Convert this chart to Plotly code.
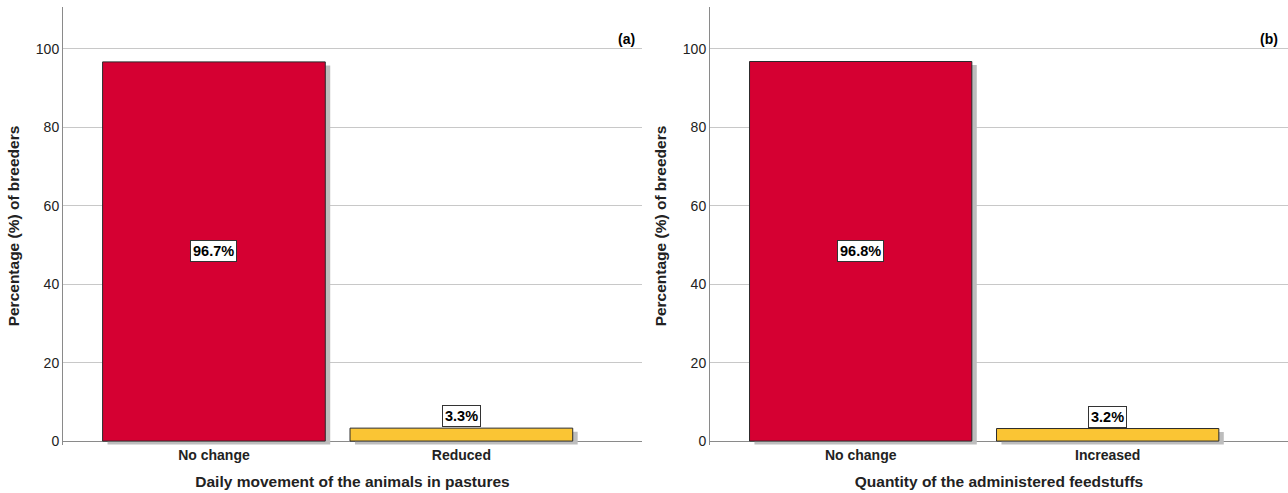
import plotly.graph_objects as go

cats_a = ["No change", "Reduced"]
vals_a = [96.7, 3.3]
cats_b = ["No change", "Increased"]
vals_b = [96.8, 3.2]
colors = ["#D50032", "#FAC534"]
xtitle_a = "Daily movement of the animals in pastures"
xtitle_b = "Quantity of the administered feedstuffs"
ytitle = "Percentage (%) of breeders"
panel_labels = ["(a)", "(b)"]

W, H = 1288, 493
FONT = "Liberation Sans, Arial, sans-serif"

fig = go.Figure()

def add_panel(cats, vals, xa, ya):
    # shadow
    fig.add_trace(go.Bar(x=cats, y=vals, base=-0.9, offset=-0.43, width=0.9,
                         marker=dict(color="#BDBDBD", line=dict(width=0)),
                         xaxis=xa, yaxis=ya, hoverinfo="skip", showlegend=False))
    fig.add_trace(go.Bar(x=cats, y=vals, offset=-0.45, width=0.9,
                         marker=dict(color=colors, line=dict(color="#2b2b2b", width=1)),
                         xaxis=xa, yaxis=ya, showlegend=False))

add_panel(cats_a, vals_a, "x", "y")
add_panel(cats_b, vals_b, "x2", "y2")

# value labels
for xa, ya, cats, vals in [("x", "y", cats_a, vals_a), ("x2", "y2", cats_b, vals_b)]:
    for c, v in zip(cats, vals):
        big = v > 20
        fig.add_annotation(x=c, y=(v / 2 if big else v), xref=xa, yref=ya,
                           text="<b>%.1f%%</b>" % v, showarrow=False,
                           yanchor="middle" if big else "bottom",
                           yshift=0 if big else 1,
                           bgcolor="white", bordercolor="#333", borderwidth=1, borderpad=2,
                           font=dict(family=FONT, size=14.5, color="black"))

l1, r1 = 63 / W, 642 / W
l2, r2 = 710 / W, 1.0
yr = [-1.0, 110.7]
xr = [-0.61, 1.73]

TFS = 15.5
common_y = dict(range=yr, tickvals=[0, 20, 40, 60, 80, 100], showgrid=True,
                gridcolor="#C8C8C8", gridwidth=1, zeroline=True, zerolinecolor="#8a8a8a",
                zerolinewidth=1, showline=True, linecolor="#8a8a8a", linewidth=1,
                ticks="", tickfont=dict(family=FONT, size=14, color="#222"),
                title=dict(text="<b>" + ytitle + "</b>", font=dict(family=FONT, size=TFS, color="#222"),
                           standoff=12))
common_x = dict(range=xr, showgrid=False, showline=False, ticks="",
                tickfont=dict(family=FONT, size=14, color="#222"), type="category")

fig.update_layout(
    width=W, height=H,
    margin=dict(l=0, r=0, t=7, b=48),
    paper_bgcolor="white", plot_bgcolor="white",
    barmode="overlay",
    xaxis=dict(domain=[l1, r1], anchor="y", **common_x,
               tickvals=cats_a, ticktext=["<b>%s</b>" % c for c in cats_a],
               title=dict(text="<b>" + xtitle_a + "</b>", font=dict(family=FONT, size=TFS, color="#222"),
                          standoff=14)),
    xaxis2=dict(domain=[l2, r2], anchor="y2", **common_x,
                tickvals=cats_b, ticktext=["<b>%s</b>" % c for c in cats_b],
                title=dict(text="<b>" + xtitle_b + "</b>", font=dict(family=FONT, size=TFS, color="#222"),
                           standoff=14)),
    yaxis=dict(domain=[0, 1], anchor="x", **common_y),
    yaxis2=dict(domain=[0, 1], anchor="x2", **common_y),
)

ylab = (441 - 29 + 3.92) / (441 + 3.92 - 7)
fig.add_annotation(x=r1 - 0.004, y=ylab, xref="paper", yref="paper",
                   text="<b>" + panel_labels[0] + "</b>", showarrow=False, xanchor="right",
                   font=dict(family=FONT, size=14, color="black"))
fig.add_annotation(x=1280 / W, y=ylab, xref="paper", yref="paper",
                   text="<b>" + panel_labels[1] + "</b>", showarrow=False, xanchor="right",
                   font=dict(family=FONT, size=14, color="black"))

fig.write_html("out.html", config={"displayModeBar": False},
               post_script="document.body.style.margin='0';document.body.style.overflow='hidden';")
